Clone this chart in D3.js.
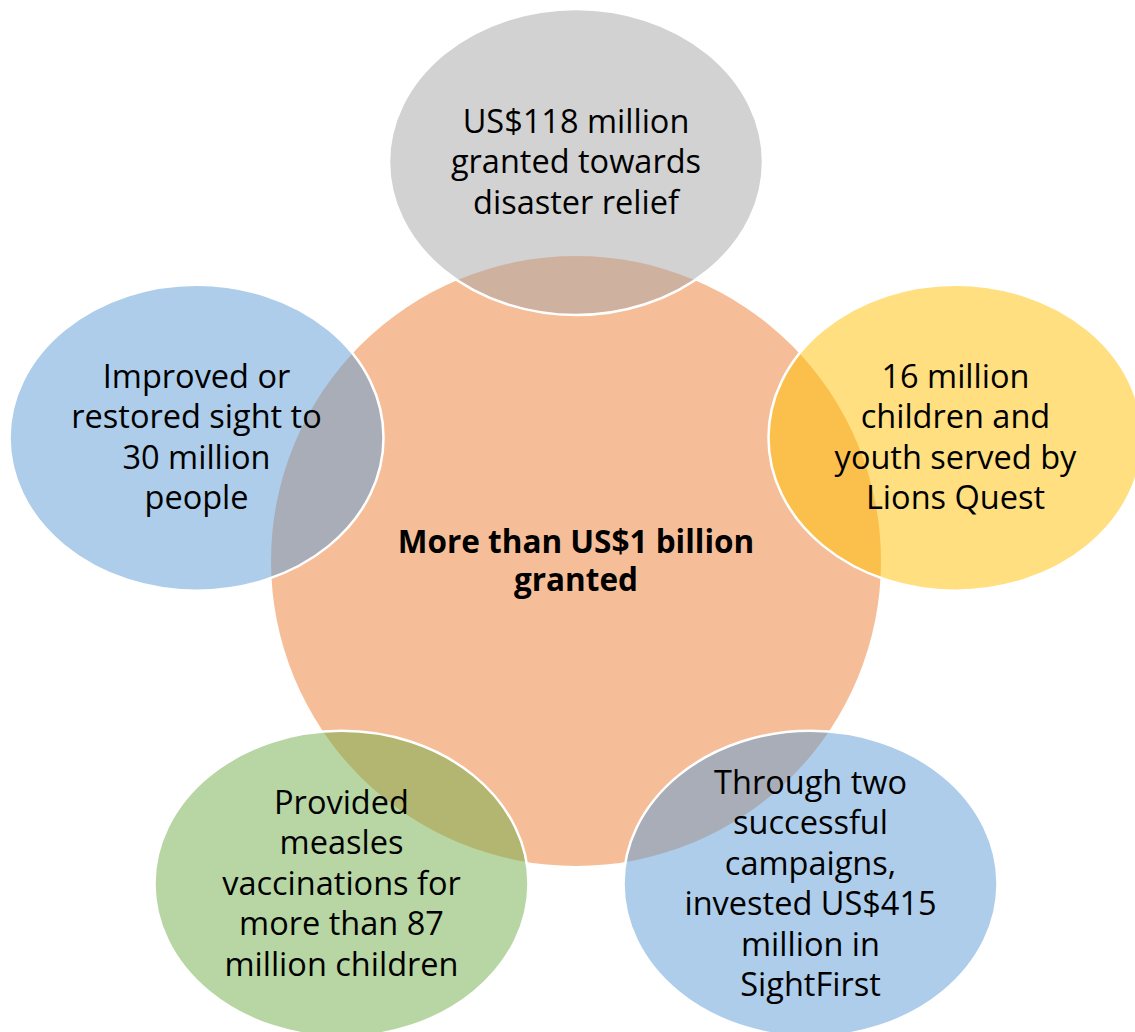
<!DOCTYPE html>
<html>
<head>
<meta charset="utf-8">
<script src="https://cdn.jsdelivr.net/npm/d3@7"></script>
<style>
  html, body { margin: 0; padding: 0; background: #fff; }
  svg { display: block; }
</style>
</head>
<body>
<svg id="chart" width="1135" height="1032"></svg>
<script>
// ---- data ----
const centerLines = ["More than US$1 billion", "granted"];
const nodeLabels = [
  ["US$118 million", "granted towards", "disaster relief"],
  ["16 million", "children and", "youth served by", "Lions Quest"],
  ["Through two", "successful", "campaigns,", "invested US$415", "million in", "SightFirst"],
  ["Provided", "measles", "vaccinations for", "more than 87", "million children"],
  ["Improved or", "restored sight to", "30 million", "people"]
];
const nodeColors = ["#A5A5A5", "#FFC000", "#5B9BD5", "#70AD47", "#5B9BD5"];
const centerColor = "#ED7D31";

// ---- layout ----
const W = 1135, H = 1032;
const cx = 576, cy = 561, R = 305;      // central circle
const orbit = 399;                      // distance from centre to satellites
const rx = 187, ry = 153;               // satellite ellipse radii

const svg = d3.select("#chart");

// angle scale: node index -> angle (clockwise from top)
const angle = d3.scaleLinear().domain([0, nodeLabels.length]).range([0, 2 * Math.PI]);
const nodes = nodeLabels.map((lines, i) => ({
  lines,
  color: nodeColors[i],
  x: cx + orbit * Math.sin(angle(i)),
  y: cy - orbit * Math.cos(angle(i))
}));

// central circle
svg.append("circle")
  .attr("cx", cx).attr("cy", cy).attr("r", R)
  .attr("fill", centerColor).attr("fill-opacity", 0.5);

// satellites
svg.selectAll("ellipse.node")
  .data(nodes)
  .join("ellipse")
  .attr("class", "node")
  .attr("cx", d => d.x).attr("cy", d => d.y)
  .attr("rx", rx).attr("ry", ry)
  .attr("fill", d => d.color).attr("fill-opacity", 0.5)
  .attr("stroke", "#fff").attr("stroke-width", 2.5);

const fontFamily = "'Open Sans', Lato, sans-serif";
const lineH = 40.5;

// satellite texts
nodes.forEach(d => {
  const n = d.lines.length;
  const t = svg.append("text")
    .attr("text-anchor", "middle")
    .attr("font-family", fontFamily)
    .attr("font-size", 32.5)
    .attr("fill", "#000");
  d.lines.forEach((ln, j) => {
    t.append("tspan")
      .attr("x", d.x)
      .attr("y", d.y + (j - (n - 1) / 2) * lineH + 11)
      .text(ln);
  });
});

// centre text
const ct = svg.append("text")
  .attr("text-anchor", "middle")
  .attr("font-family", fontFamily)
  .attr("font-weight", "bold")
  .attr("font-size", 31.5)
  .attr("fill", "#000");
centerLines.forEach((ln, j) => {
  ct.append("tspan")
    .attr("x", cx)
    .attr("y", cy + (j - (centerLines.length - 1) / 2) * 38 + 11)
    .text(ln);
});
</script>
</body>
</html>
